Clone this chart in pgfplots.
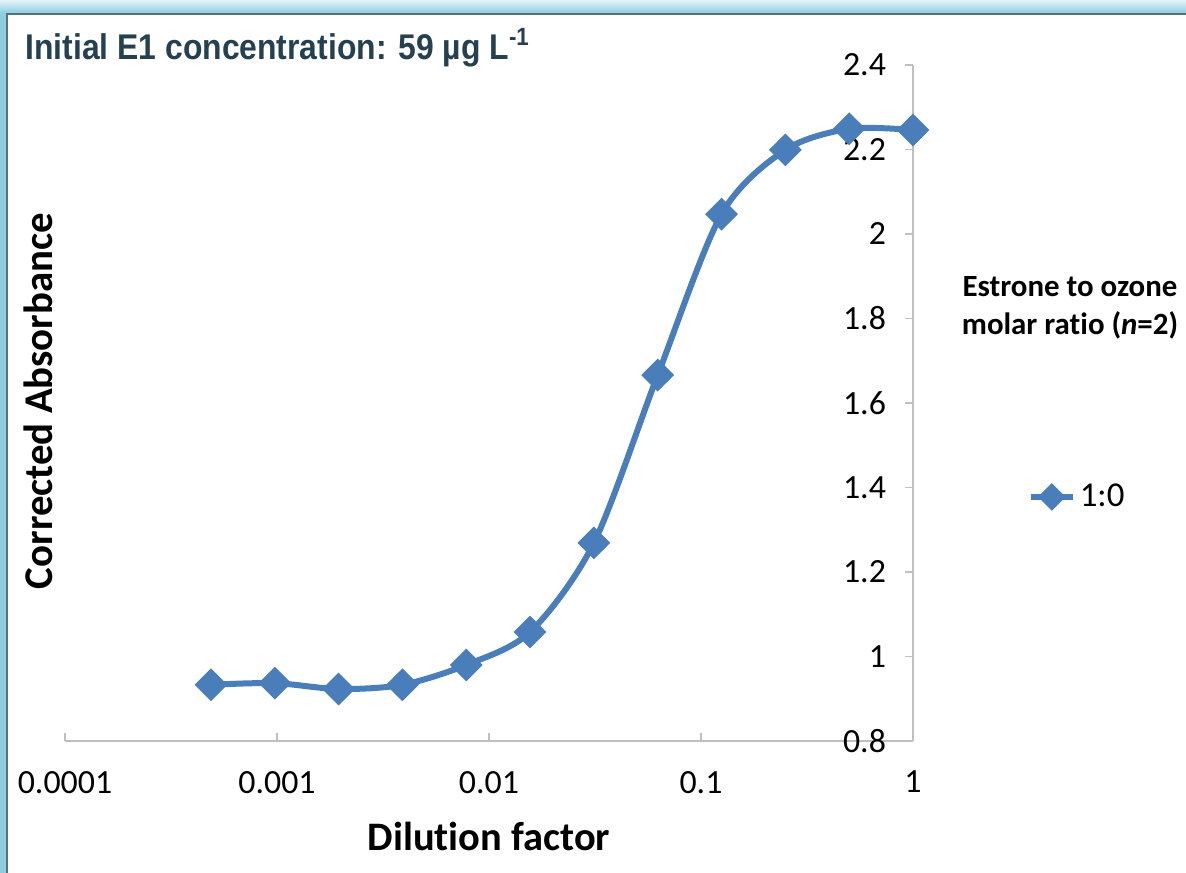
\documentclass[border=0pt]{standalone}
\usepackage{pgfplots}
\pgfplotsset{compat=1.18}
\usepackage{fontspec}
\setmainfont[Ligatures={NoCommon,NoContextual}]{Carlito}
\newfontfamily\arialfont{Liberation Sans}
\definecolor{excelblue}{HTML}{4A7EBB}
\definecolor{axisgray}{HTML}{BFBFBF}
\definecolor{titlecol}{RGB}{37,64,80}
\definecolor{bandblue}{RGB}{140,205,225}
\definecolor{bandlight}{RGB}{228,244,249}
\definecolor{edgegray}{RGB}{90,112,122}
\newcommand{\ti}{t\kern0pt i}

\begin{document}
\begin{tikzpicture}
% page = 1186 x 873 px at 0.5bp per px
\path[use as bounding box, fill=white] (0,0) rectangle (593bp,436.5bp);
\shade[top color=bandlight, bottom color=bandblue] (0,430bp) rectangle (593bp,436.5bp);
\fill[bandblue] (0,0) rectangle (2.8bp,430bp);
\draw[edgegray, line width=1bp] (3.3bp,0) -- (3.3bp,429.6bp) -- (593bp,429.6bp);

\begin{axis}[
  at={(32.5bp,66bp)}, anchor=south west,
  scale only axis, width=424bp, height=338bp,
  xmode=log, xmin=1e-4, xmax=1,
  ymin=0.8, ymax=2.4,
  axis x line=bottom, axis y line=right,
  axis line style={-, axisgray, line width=0.75bp},
  tick style={axisgray, line width=0.75bp},
  major tick length=4bp,
  xtick align=inside, ytick align=inside,
  xminorticks=false,
  xtick={1e-4,1e-3,1e-2,1e-1,1},
  xticklabels={0.0001,0.001,0.01,0.1,1},
  ytick={0.8,1,1.2,1.4,1.6,1.8,2,2.2,2.4},
  yticklabels={0.8,1,1.2,1.4,1.6,1.8,2,2.2,2.4},
  /pgf/number format/assume math mode=true,
  tick label style={font=\fontsize{17}{20}\selectfont, text=black},
  xticklabel style={anchor=north, yshift=-11.5bp},
  yticklabel style={anchor=east, xshift=-10bp},
  legend style={at={(1.135,0.361)}, anchor=west, draw=none, fill=none,
    font=\fontsize{17.5}{20}\selectfont, inner sep=0pt},
  legend image code/.code={\draw[mark size=3.4bp, mark repeat=2, mark phase=2] plot coordinates {(0cm,0cm) (0.37cm,0cm) (0.74cm,0cm)};},
  clip=false,
]
\addplot[excelblue, line width=3bp, smooth, tension=0.5,
  mark=square*, mark size=4.3bp, mark options={rotate=45, solid}]
  coordinates {
  (0.00048828,0.933) (0.00097656,0.937) (0.0019531,0.923) (0.0039063,0.933)
  (0.0078125,0.980) (0.015625,1.058) (0.03125,1.269) (0.0625,1.666)
  (0.125,2.047) (0.25,2.199) (0.5,2.249) (1,2.246)
  };
\addlegendentry{1:0}
\end{axis}

\node[anchor=base west, inner sep=0pt, text=titlecol, yscale=1.12,
  font=\arialfont\bfseries\fontsize{16}{19}\selectfont]
  at (12.5bp,406.5bp) {Initial E1 concentration: 59 µg L\textsuperscript{-1}};
\node[rotate=90, font=\bfseries\fontsize{20.5}{24}\selectfont] at (19bp,236bp) {Corrected Absorbance};
\node[font=\bfseries\fontsize{20.3}{24}\selectfont] at (244.5bp,18.5bp) {Dilu\ti on factor};
\node[align=center, font=\bfseries\fontsize{15.5}{19}\selectfont] at (535bp,282.5bp)
  {Estrone to ozone\\molar ra\ti o (\textit{n}=2)};
\end{tikzpicture}
\end{document}
